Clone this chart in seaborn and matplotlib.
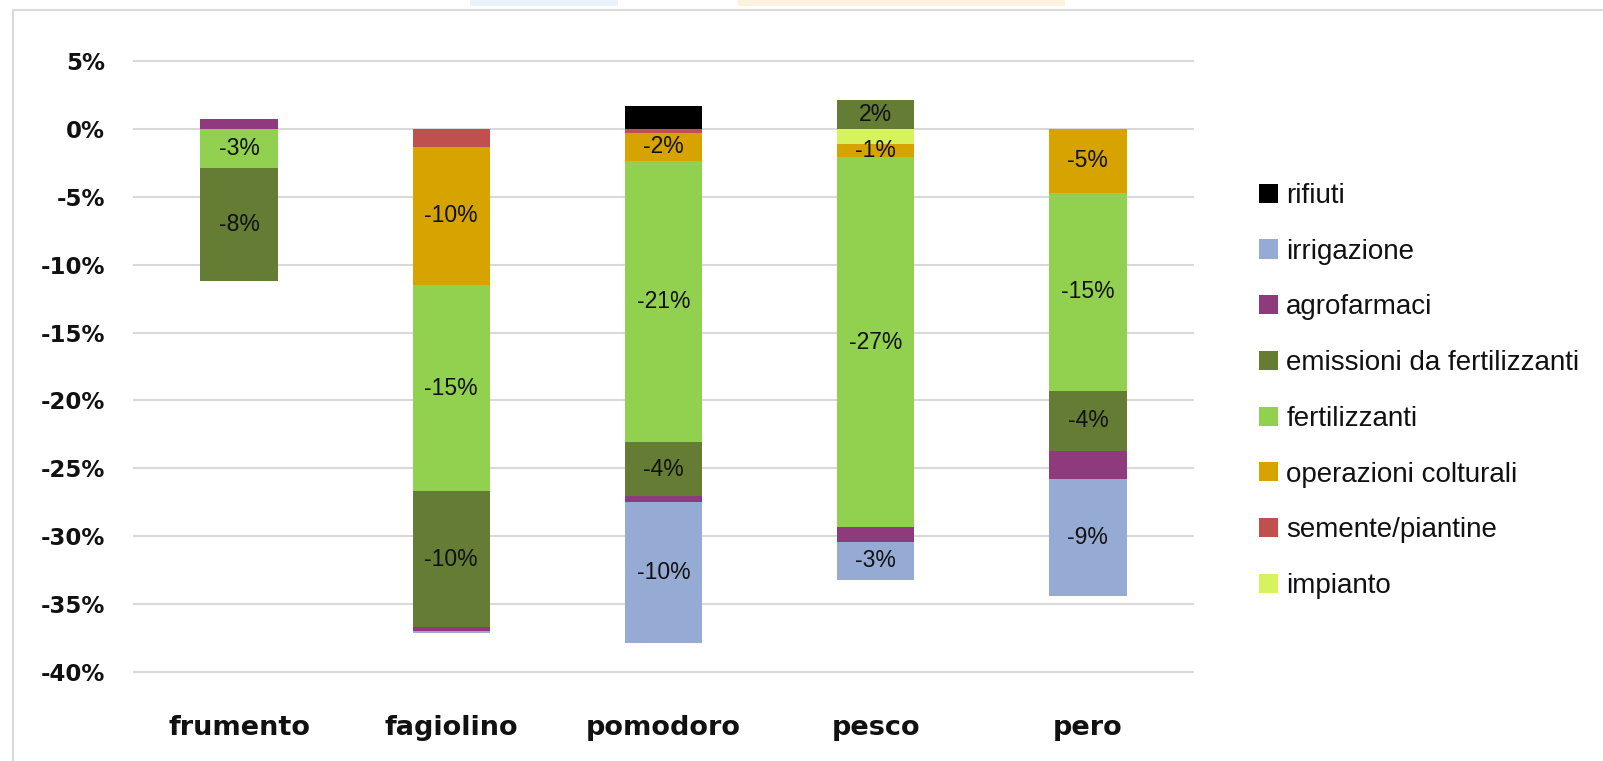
import numpy as np
import seaborn as sns
from matplotlib import pyplot as plt
from matplotlib.patches import Rectangle
from matplotlib.ticker import FuncFormatter

sns.set_style("white")
plt.rcParams["font.family"] = ["Liberation Sans", "DejaVu Sans"]
plt.rcParams["axes.unicode_minus"] = False
plt.rcParams["text.color"] = "#111111"
plt.rcParams["xtick.color"] = "#111111"
plt.rcParams["ytick.color"] = "#111111"

# colture (asse x)
colture = ["frumento", "fagiolino", "pomodoro", "pesco", "pero"]

# variazioni percentuali per voce, stessa sequenza di colture
impianto = [0, 0, 0, -1.1, 0]
sementi = [0, -1.3, -0.3, 0, 0]
operazioni = [0, -10.2, -2.05, -1.0, -4.7]
fertilizzanti = [-2.9, -15.2, -20.7, -27.2, -14.6]
emissioni = [-8.3, -10.0, -4.0, 2.1, -4.4]
agrofarmaci = [0.7, -0.3, -0.4, -1.15, -2.1]
irrigazione = [0, -0.1, -10.4, -2.75, -8.6]
rifiuti = [0, 0, 1.7, 0, 0]

y_ticks = list(range(-40, 10, 5))

serie = [
    ("impianto", impianto),
    ("semente/piantine", sementi),
    ("operazioni colturali", operazioni),
    ("fertilizzanti", fertilizzanti),
    ("emissioni da fertilizzanti", emissioni),
    ("agrofarmaci", agrofarmaci),
    ("irrigazione", irrigazione),
    ("rifiuti", rifiuti),
]
colori = {
    "impianto": "#D6F25C",
    "semente/piantine": "#C0504D",
    "operazioni colturali": "#D6A300",
    "fertilizzanti": "#92D050",
    "emissioni da fertilizzanti": "#647C33",
    "agrofarmaci": "#8E3A7C",
    "irrigazione": "#95ABD3",
    "rifiuti": "#000000",
}
# voci con etichetta del valore
etichettate = ["operazioni colturali", "fertilizzanti",
               "emissioni da fertilizzanti", "irrigazione"]

fig = plt.figure(figsize=(16.03, 7.61), dpi=100)
ax = fig.add_axes([133 / 1603, (761 - 672 - 2.7) / 761,
                   (1194 - 133) / 1603, (672 - 61 + 5.4) / 761])

pos = np.zeros(len(colture))
neg = np.zeros(len(colture))
for nome, valori in serie:
    v = np.array(valori, dtype=float)
    base = np.where(v >= 0, pos, neg)
    sns.barplot(x=colture, y=v, bottom=base, color=colori[nome], saturation=1,
                width=0.365, errorbar=None, linewidth=0, label=nome, ax=ax)
    pos += np.clip(v, 0, None)
    neg += np.clip(v, None, 0)
    if nome in etichettate:
        testi = [f"{x:.0f}%" if abs(x) >= 0.5 else "" for x in v]
        ax.bar_label(ax.containers[-1], labels=testi, label_type="center",
                     fontsize=16.5, color="#111111")

if ax.get_legend() is not None:
    ax.get_legend().remove()

ax.set_ylim(-40.2, 5.2)
ax.set_xlim(-0.5, 4.5)
ax.set_yticks(y_ticks)
ax.yaxis.set_major_formatter(FuncFormatter(lambda v, p: f"{int(round(v))}%"))
ax.yaxis.grid(True, color="#d9d9d9", linewidth=1.5)
ax.xaxis.grid(False)
ax.set_axisbelow(True)
sns.despine(ax=ax, left=True, bottom=True)
ax.tick_params(axis="y", length=0, pad=20)
ax.tick_params(axis="x", length=0, pad=29)
ax.set_xlabel("")
ax.set_ylabel("")
plt.setp(ax.get_yticklabels(), family="DejaVu Sans", weight="bold", fontsize=16.5)
plt.setp(ax.get_xticklabels(), family="DejaVu Sans", weight="bold", fontsize=19.5)

handles, labels = ax.get_legend_handles_labels()
fig.legend(handles[::-1], labels[::-1], loc="upper left",
           bbox_to_anchor=(1259 / 1603, 1 - 183 / 761), frameon=False,
           fontsize=20, handlelength=0.68, handleheight=0.68,
           handletextpad=0.3, labelspacing=1.07, borderpad=0, borderaxespad=0,
           labelcolor="#111111")

# cornice e residui della schermata
fig.add_artist(Rectangle((13 / 1603, -0.05), 1.2, 1.05 - 10 / 761,
                         transform=fig.transFigure, fill=False,
                         edgecolor="#d9d9d9", linewidth=1.5))
fig.add_artist(Rectangle((470 / 1603, 1 - 6 / 761), 148 / 1603, 6 / 761,
                         transform=fig.transFigure, color="#eaf3fc", linewidth=0))
fig.add_artist(Rectangle((738 / 1603, 1 - 6 / 761), 327 / 1603, 6 / 761,
                         transform=fig.transFigure, color="#fdf2df", linewidth=0))

fig.savefig("out.png", dpi=100)
